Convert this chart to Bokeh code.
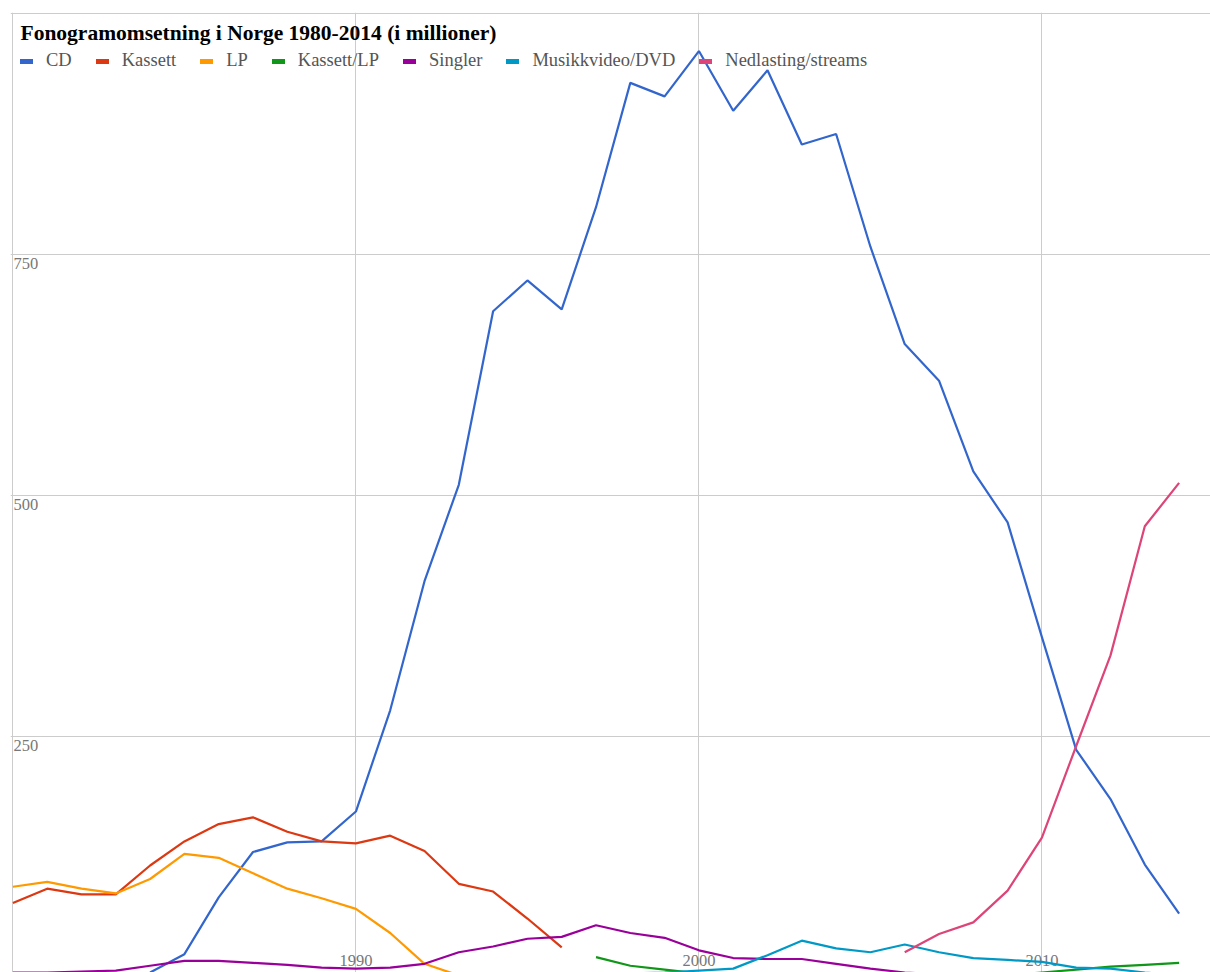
from bokeh.plotting import figure
from bokeh.models import ColumnDataSource, Legend, LegendItem, Label, FixedTicker, Range1d
from bokeh.core.properties import value
from bokeh.embed import file_html
from bokeh.resources import INLINE

nan = float("nan")

title_text = "Fonogramomsetning i Norge 1980-2014 (i millioner)"

years = list(range(1980, 2015))

cd = [nan, nan, nan, nan, 5, 24, 83, 130, 140, 141,
      172, 277, 411, 511, 691, 723, 693, 799, 928, 914,
      961, 899, 941, 864, 875, 758, 657, 619, 525, 472,
      353, 236, 185, 117, 66]
kassett = [77, 92, 86, 86, 116, 141, 159, 166, 151, 141,
           139, 147, 131, 97, 89, 61, 31, nan, nan, nan,
           nan, nan, nan, nan, nan, nan, nan, nan, nan, nan,
           nan, nan, nan, nan, nan]
lp = [94, 99, 92, 87, 102, 128, 124, 108, 92, 82,
      71, 46, 14, 2, 1, 1, 1, nan, nan, nan,
      nan, nan, nan, nan, nan, nan, nan, nan, nan, nan,
      nan, nan, nan, nan, nan]
kassett_lp = [nan, nan, nan, nan, nan, nan, nan, nan, nan, nan,
              nan, nan, nan, nan, nan, nan, nan, 21, 12, 8,
              4, 2, 2, 2, 2, 2, 2, 2, 2, 2,
              5, 8, 11, 13, 15]
singler = [5, 5, 6, 7, 12, 17, 17, 15, 13, 10,
           9, 10, 14, 26, 32, 40, 42, 54, 46, 41,
           28, 20, 19, 19, 14, 9, 5, 3, 2, 2,
           nan, nan, nan, nan, nan]
musikkvideo = [nan, nan, nan, nan, nan, nan, nan, nan, nan, nan,
               nan, nan, nan, 2, 2, 3, 3, 3, 4, 5,
               7, 9, 23, 38, 30, 26, 34, 26, 20, 18,
               16, 10, 9, 5, 2]
nedlasting = [nan, nan, nan, nan, nan, nan, nan, nan, nan, nan,
              nan, nan, nan, nan, nan, nan, nan, nan, nan, nan,
              nan, nan, nan, nan, nan, nan, 26, 45, 57, 90,
              145, 240, 334, 468, 513]

series_names = ["CD", "Kassett", "LP", "Kassett/LP", "Singler",
                "Musikkvideo/DVD", "Nedlasting/streams"]
series_keys = ["cd", "kassett", "lp", "kassett_lp", "singler",
               "musikkvideo", "nedlasting"]
colors = ["#3366cc", "#dc3912", "#ff9900", "#109618", "#990099",
          "#0099c6", "#dd4477"]

y_ticks = [250, 500, 750]
y_tick_labels = ["250", "500", "750"]
x_ticks = [1990, 2000, 2010]
x_tick_labels = ["1990", "2000", "2010"]

src = ColumnDataSource(dict(year=years, cd=cd, kassett=kassett, lp=lp,
                            kassett_lp=kassett_lp, singler=singler,
                            musikkvideo=musikkvideo, nedlasting=nedlasting))

x_start, x_end = 1979.93, 2014.915
y_start, y_end = 5, 1001

p = figure(width=1210, height=972,
           x_range=Range1d(x_start, x_end), y_range=Range1d(y_start, y_end),
           output_backend="svg", toolbar_location=None,
           x_axis_location=None, y_axis_location=None,
           min_border_left=10, min_border_top=12, min_border_right=0,
           min_border_bottom=0)
p.outline_line_color = None
p.background_fill_color = "white"
p.border_fill_color = "white"

p.xgrid.ticker = FixedTicker(ticks=[1980] + x_ticks)
p.ygrid.ticker = FixedTicker(ticks=y_ticks + [1000])
p.xgrid.grid_line_color = "#cccccc"
p.ygrid.grid_line_color = "#cccccc"
p.xgrid.grid_line_width = 1
p.ygrid.grid_line_width = 1

# tick labels inside the plot
p.text(x=[x_start] * len(y_ticks), y=y_ticks, text=y_tick_labels,
       x_offset=3, y_offset=4, text_align="left", text_baseline="top",
       text_font=value("Liberation Serif"), text_font_size="16.5px",
       text_color="#777777")
p.text(x=x_ticks, y=[y_start] * len(x_ticks), text=x_tick_labels,
       x_offset=0, y_offset=-12, text_align="center", text_baseline="alphabetic",
       text_font=value("Liberation Serif"), text_font_size="16.5px",
       text_color="#777777")

items = []
for name, key, col in zip(series_names, series_keys, colors):
    p.line(x="year", y=key, source=src, line_color=col, line_width=2.2)
    proxy = p.line(x=[years[0]], y=[nan], line_color=col, line_width=5,
                   line_cap="round")
    items.append(LegendItem(label=name, renderers=[proxy]))

legend = Legend(items=items, orientation="horizontal", location=(10, 901),
                glyph_width=13, glyph_height=20, label_height=20,
                label_standoff=13, spacing=24, padding=0, margin=0,
                border_line_alpha=0, background_fill_alpha=0,
                label_text_font="Liberation Serif", label_text_font_size="18.5px",
                label_text_color="#555555")
p.add_layout(legend, "center")

title = Label(x=10, y=940, x_units="screen", y_units="screen", text=title_text,
              text_font="Liberation Serif", text_font_size="21.5px",
              text_font_style="bold", text_color="#000000",
              text_baseline="alphabetic")
p.add_layout(title)

open("out.html", "w").write(file_html(p, INLINE))
